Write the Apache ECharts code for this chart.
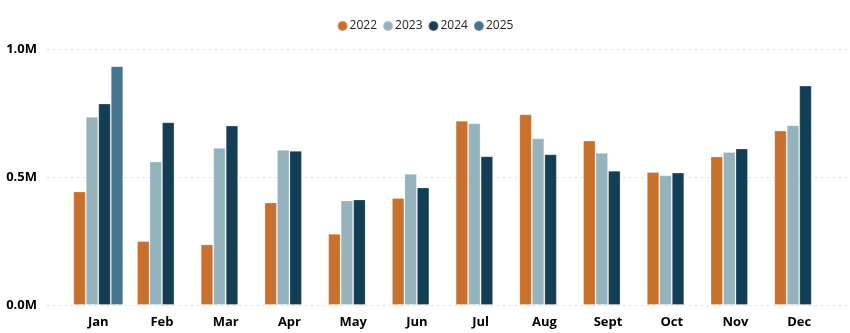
<!DOCTYPE html>
<html>
<head>
<meta charset="utf-8">
<script src="https://cdn.jsdelivr.net/npm/echarts@6/dist/echarts.min.js"></script>
<style>html,body{margin:0;padding:0;background:#fff}#c{width:850px;height:333px}</style>
</head>
<body>
<div id="c"></div>
<script>
const months = ['Jan','Feb','Mar','Apr','May','Jun','Jul','Aug','Sept','Oct','Nov','Dec'];
const years = ['2022','2023','2024','2025'];
const v2022 = [444000,250000,237000,401000,279000,418000,721000,746000,643000,520000,581000,682000];
const v2023 = [736000,561000,615000,607000,409000,513000,711000,652000,595000,507000,598000,703000];
const v2024 = [788000,715000,702000,603000,413000,460000,582000,590000,525000,518000,612000,858000];
const v2025 = [934000,null,null,null,null,null,null,null,null,null,null,null];
const yTicks = [0,500000,1000000];
const colors = ['#C8702D','#95B3BD','#133E55','#45748E'];

const chart = echarts.init(document.getElementById('c'));
const font = '"Open Sans", "Noto Sans", sans-serif';
const seriesData = [v2022,v2023,v2024,v2025];
chart.setOption({
  animation:false,
  textStyle:{fontFamily:font},
  color:colors,
  legend:{
    top:15, left:'center', icon:'circle', itemWidth:10, itemHeight:10, itemGap:5,
    textStyle:{fontSize:12, color:'#252423', fontFamily:font, padding:[0,0,0,-3]},
    data:years
  },
  grid:[
    {left:66.4, right:18.9, top:49.3, bottom:28},
    {left:47, right:2, top:49.3, bottom:28}
  ],
  xAxis:[
    {type:'category', gridIndex:0, data:months,
     axisLine:{show:false}, axisTick:{show:false},
     axisLabel:{fontSize:13, fontWeight:'bold', color:'#000', margin:11, fontFamily:font}},
    {type:'value', gridIndex:1, show:false, min:0, max:1}
  ],
  yAxis:[
    {type:'value', gridIndex:0, min:yTicks[0], max:yTicks[yTicks.length-1], interval:500000,
     show:false, splitLine:{show:false}},
    {type:'value', gridIndex:1, min:yTicks[0], max:yTicks[yTicks.length-1], interval:500000,
     axisLine:{show:false}, axisTick:{show:false},
     axisLabel:{fontSize:13, fontWeight:'bold', color:'#000', margin:10, fontFamily:font,
       formatter:v=>(v/1e6).toFixed(1)+'M'},
     splitLine:{show:true, lineStyle:{color:'#dcdcdc', type:[2,4], width:1}}}
  ],
  series: years.map((y,i)=>({
    name:y, type:'bar', xAxisIndex:0, yAxisIndex:0,
    data:seriesData[i], barGap:'0%', barCategoryGap:'21.5%',
    itemStyle:{color:colors[i], borderColor:'rgba(255,255,255,0.25)', borderWidth:1}
  }))
});
</script>
</body>
</html>
